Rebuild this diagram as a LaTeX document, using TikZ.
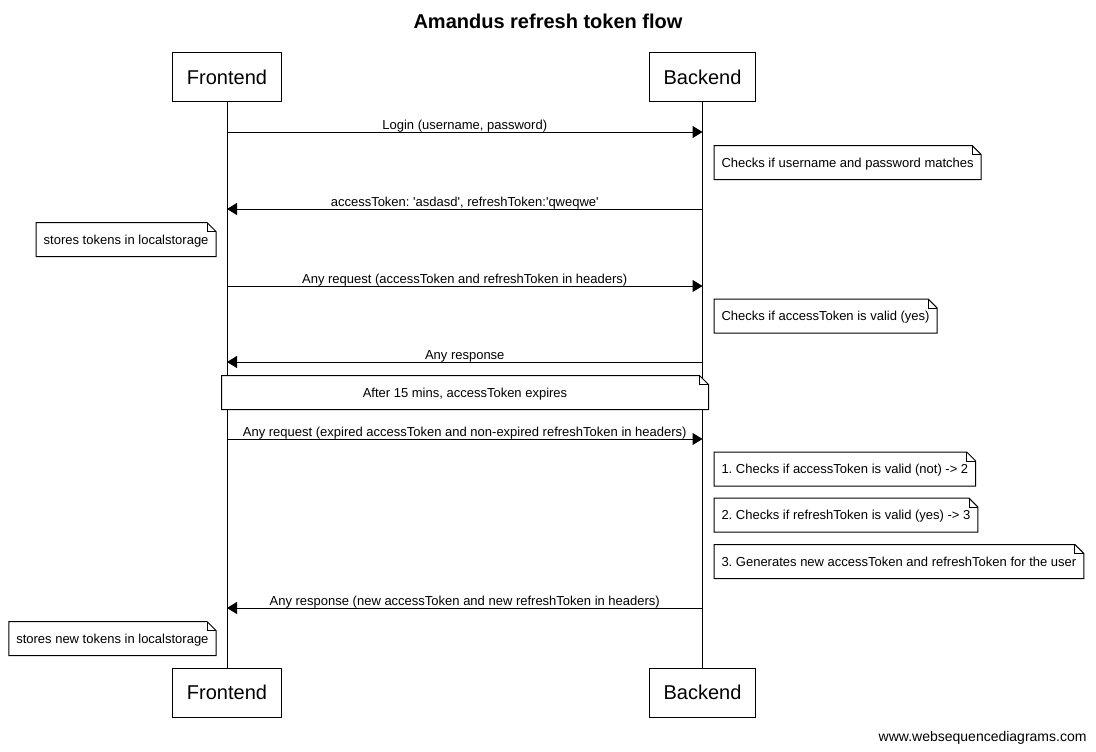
\documentclass[tikz,border=0pt]{standalone}
\usepackage{fontspec}
\setmainfont{Liberation Sans}
\usetikzlibrary{arrows.meta}
\frenchspacing
\tikzset{
  every picture/.style={line width=1pt},
  actor/.style={draw, line width=1pt, minimum height=49pt, inner xsep=14pt, font=\fontsize{20}{24}\selectfont},
  msg/.style={draw, line width=1pt, -{Triangle[length=10pt,width=12pt]}},
  lbl/.style={midway, anchor=base, yshift=3pt, inner sep=0pt, font=\fontsize{13}{15}\selectfont},
  note/.style={inner xsep=7pt, minimum height=33pt, text height=11pt, text depth=2pt, font=\fontsize{13}{15}\selectfont},
  life/.style={draw, line width=1pt},
}
\newcommand\sq{\textquotesingle}
\newcommand\dognote[1]{%
  \draw[line width=1pt, fill=white] (#1.south west) -- (#1.south east) -- ([yshift=-9pt]#1.north east) -- ([xshift=-9pt]#1.north east) -- (#1.north west) -- cycle;
  \draw[line width=0.7pt] ([xshift=-9pt]#1.north east) -- ([xshift=-9pt,yshift=-9pt]#1.north east) -- ([yshift=-9pt]#1.north east);
}
\begin{document}
\begin{tikzpicture}[x=1pt,y=-1pt]
\useasboundingbox (0,0) rectangle (1096,752);
\fill[white] (0,0) rectangle (1096,752);
\node[anchor=base, font=\fontsize{20}{24}\selectfont\bfseries] (title) at (548,29) {Amandus refresh token flow};

\node[actor, minimum width=108pt] (fetop) at (227,77.5) {Frontend};
\node[actor, minimum width=105pt] (betop) at (702.5,77.5) {Backend};
\node[actor, minimum width=108pt] (febot) at (227,692.5) {Frontend};
\node[actor, minimum width=105pt] (bebot) at (702.5,692.5) {Backend};

\draw[life] (fetop.south) -- (febot.north);
\draw[life] (betop.south) -- (bebot.north);

% messages
\coordinate (f1) at (fetop |- 0,132); \coordinate (b1) at (betop |- 0,132);
\draw[msg] (f1) -- node[lbl] {Login (username, password)} (b1);

\node[note, anchor=west] (n1) at (714,162.5) {Checks if username and password matches};
\dognote{n1}
\node[note, anchor=west] at (714,162.5) {Checks if username and password matches};

\coordinate (f2) at (fetop |- 0,209); \coordinate (b2) at (betop |- 0,209);
\draw[msg] (b2) -- node[lbl] {accessToken: \sq asdasd\sq, refreshToken:\sq qweqwe\sq} (f2);

\node[note, anchor=east] (n2) at (216,239.5) {stores tokens in localstorage};
\dognote{n2}
\node[note, anchor=east] at (216,239.5) {stores tokens in localstorage};

\coordinate (f3) at (fetop |- 0,286); \coordinate (b3) at (betop |- 0,286);
\draw[msg] (f3) -- node[lbl] {Any request (accessToken and refreshToken in headers)} (b3);

\node[note, anchor=west] (n3) at (714,316) {Checks if accessToken is valid (yes)};
\dognote{n3}
\node[note, anchor=west] at (714,316) {Checks if accessToken is valid (yes)};

\coordinate (f4) at (fetop |- 0,362); \coordinate (b4) at (betop |- 0,362);
\draw[msg] (b4) -- node[lbl] {Any response} (f4);

\node[note, minimum width=486pt] (n4) at (465,392.5) {After 15 mins, accessToken expires};
\dognote{n4}
\node[note, minimum width=486pt] at (465,392.5) {After 15 mins, accessToken expires};

\coordinate (f5) at (fetop |- 0,439); \coordinate (b5) at (betop |- 0,439);
\draw[msg] (f5) -- node[lbl] {Any request (expired accessToken and non-expired refreshToken in headers)} (b5);

\node[note, anchor=west] (n5) at (714,469) {1. Checks if accessToken is valid (not) -> 2};
\dognote{n5}
\node[note, anchor=west] at (714,469) {1. Checks if accessToken is valid (not) -> 2};

\node[note, anchor=west] (n6) at (714,515) {2. Checks if refreshToken is valid (yes) -> 3};
\dognote{n6}
\node[note, anchor=west] at (714,515) {2. Checks if refreshToken is valid (yes) -> 3};

\node[note, anchor=west] (n7) at (714,561.5) {3. Generates new accessToken and refreshToken for the user};
\dognote{n7}
\node[note, anchor=west] at (714,561.5) {3. Generates new accessToken and refreshToken for the user};

\coordinate (f6) at (fetop |- 0,608); \coordinate (b6) at (betop |- 0,608);
\draw[msg] (b6) -- node[lbl] {Any response (new accessToken and new refreshToken in headers)} (f6);

\node[note, anchor=east] (n8) at (216,638.5) {stores new tokens in localstorage};
\dognote{n8}
\node[note, anchor=east] at (216,638.5) {stores new tokens in localstorage};

\node[anchor=base east, inner sep=0pt, font=\fontsize{14}{16}\selectfont] (footer) at (1087,741) {www.websequencediagrams.com};
\end{tikzpicture}
\end{document}
